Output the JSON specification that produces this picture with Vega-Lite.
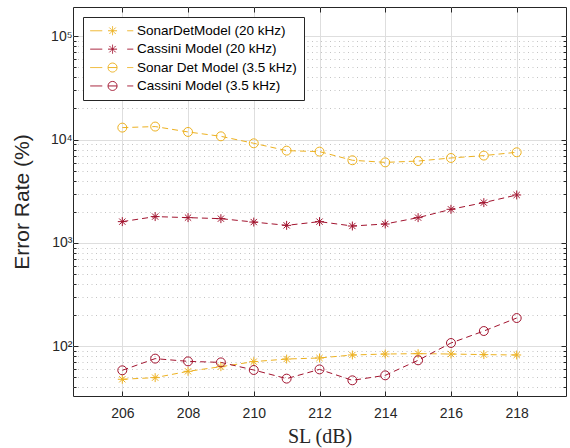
{
  "$schema": "https://vega.github.io/schema/vega-lite/v6.json",
  "width": 493,
  "height": 389,
  "autosize": {"type": "none"},
  "padding": {"left": 73, "top": 7, "right": 4, "bottom": 52},
  "background": "white",
  "config": {
    "view": {"stroke": "#262626", "strokeWidth": 1},
    "axis": {"labelFont": "Liberation Sans", "titleFont": "Liberation Sans", "labelColor": "#262626", "titleColor": "#262626", "tickColor": "#262626", "domain": false}
  },
  "data": {"values": [
    {"SL": 206, "value": 47.9, "series": "SonarDetModel (20 kHz)"},
    {"SL": 207, "value": 49.7, "series": "SonarDetModel (20 kHz)"},
    {"SL": 208, "value": 57.2, "series": "SonarDetModel (20 kHz)"},
    {"SL": 209, "value": 63.4, "series": "SonarDetModel (20 kHz)"},
    {"SL": 210, "value": 71, "series": "SonarDetModel (20 kHz)"},
    {"SL": 211, "value": 75.2, "series": "SonarDetModel (20 kHz)"},
    {"SL": 212, "value": 77, "series": "SonarDetModel (20 kHz)"},
    {"SL": 213, "value": 82.3, "series": "SonarDetModel (20 kHz)"},
    {"SL": 214, "value": 84.1, "series": "SonarDetModel (20 kHz)"},
    {"SL": 215, "value": 84.8, "series": "SonarDetModel (20 kHz)"},
    {"SL": 216, "value": 84.1, "series": "SonarDetModel (20 kHz)"},
    {"SL": 217, "value": 83, "series": "SonarDetModel (20 kHz)"},
    {"SL": 218, "value": 82.3, "series": "SonarDetModel (20 kHz)"},
    {"SL": 206, "value": 1607, "series": "Cassini Model (20 kHz)"},
    {"SL": 207, "value": 1798, "series": "Cassini Model (20 kHz)"},
    {"SL": 208, "value": 1757, "series": "Cassini Model (20 kHz)"},
    {"SL": 209, "value": 1717, "series": "Cassini Model (20 kHz)"},
    {"SL": 210, "value": 1592, "series": "Cassini Model (20 kHz)"},
    {"SL": 211, "value": 1479, "series": "Cassini Model (20 kHz)"},
    {"SL": 212, "value": 1607, "series": "Cassini Model (20 kHz)"},
    {"SL": 213, "value": 1458, "series": "Cassini Model (20 kHz)"},
    {"SL": 214, "value": 1525, "series": "Cassini Model (20 kHz)"},
    {"SL": 215, "value": 1757, "series": "Cassini Model (20 kHz)"},
    {"SL": 216, "value": 2115, "series": "Cassini Model (20 kHz)"},
    {"SL": 217, "value": 2455, "series": "Cassini Model (20 kHz)"},
    {"SL": 218, "value": 2911, "series": "Cassini Model (20 kHz)"},
    {"SL": 206, "value": 13060, "series": "Sonar Det Model (3.5 kHz)"},
    {"SL": 207, "value": 13370, "series": "Sonar Det Model (3.5 kHz)"},
    {"SL": 208, "value": 11860, "series": "Sonar Det Model (3.5 kHz)"},
    {"SL": 209, "value": 10760, "series": "Sonar Det Model (3.5 kHz)"},
    {"SL": 210, "value": 9210, "series": "Sonar Det Model (3.5 kHz)"},
    {"SL": 211, "value": 7820, "series": "Sonar Det Model (3.5 kHz)"},
    {"SL": 212, "value": 7650, "series": "Sonar Det Model (3.5 kHz)"},
    {"SL": 213, "value": 6310, "series": "Sonar Det Model (3.5 kHz)"},
    {"SL": 214, "value": 6020, "series": "Sonar Det Model (3.5 kHz)"},
    {"SL": 215, "value": 6200, "series": "Sonar Det Model (3.5 kHz)"},
    {"SL": 216, "value": 6640, "series": "Sonar Det Model (3.5 kHz)"},
    {"SL": 217, "value": 7000, "series": "Sonar Det Model (3.5 kHz)"},
    {"SL": 218, "value": 7540, "series": "Sonar Det Model (3.5 kHz)"},
    {"SL": 206, "value": 58.5, "series": "Cassini Model (3.5 kHz)"},
    {"SL": 207, "value": 75.9, "series": "Cassini Model (3.5 kHz)"},
    {"SL": 208, "value": 71.4, "series": "Cassini Model (3.5 kHz)"},
    {"SL": 209, "value": 69.8, "series": "Cassini Model (3.5 kHz)"},
    {"SL": 210, "value": 58.9, "series": "Cassini Model (3.5 kHz)"},
    {"SL": 211, "value": 48.6, "series": "Cassini Model (3.5 kHz)"},
    {"SL": 212, "value": 59.7, "series": "Cassini Model (3.5 kHz)"},
    {"SL": 213, "value": 46.8, "series": "Cassini Model (3.5 kHz)"},
    {"SL": 214, "value": 52.3, "series": "Cassini Model (3.5 kHz)"},
    {"SL": 215, "value": 73.1, "series": "Cassini Model (3.5 kHz)"},
    {"SL": 216, "value": 107.5, "series": "Cassini Model (3.5 kHz)"},
    {"SL": 217, "value": 140.4, "series": "Cassini Model (3.5 kHz)"},
    {"SL": 218, "value": 187.5, "series": "Cassini Model (3.5 kHz)"}
  ]},
  "layer": [
    {
      "mark": {"type": "point", "filled": false, "strokeWidth": 1, "opacity": 0},
      "encoding": {
        "x": {
          "field": "SL", "type": "quantitative",
          "scale": {"domain": [204.5, 219.5], "nice": false, "zero": false},
          "axis": {
            "orient": "bottom", "values": [206, 208, 210, 212, 214, 216, 218],
            "grid": true, "gridColor": "#dedede", "gridWidth": 1,
            "tickSize": -5, "labelPadding": 15, "labelFontSize": 14,
            "title": "SL (dB)", "titleFont": "Liberation Serif", "titleFontSize": 20,
            "titleFontWeight": "normal", "titlePadding": 6
          }
        },
        "y": {
          "field": "value", "type": "quantitative",
          "scale": {"type": "log", "domain": [33, 192000], "nice": false},
          "axis": {
            "orient": "left",
            "values": [40, 50, 60, 70, 80, 90, 100, 200, 300, 400, 500, 600, 700, 800, 900, 1000, 2000, 3000, 4000, 5000, 6000, 7000, 8000, 9000, 10000, 20000, 30000, 40000, 50000, 60000, 70000, 80000, 90000, 100000],
            "grid": true,
            "gridColor": {"condition": {"test": "datum.value == 100 || datum.value == 1000 || datum.value == 10000 || datum.value == 100000", "value": "#dedede"}, "value": "#c4c4c4"},
            "gridDash": {"condition": {"test": "datum.value == 100 || datum.value == 1000 || datum.value == 10000 || datum.value == 100000", "value": []}, "value": [1, 3.5]},
            "tickSize": {"condition": {"test": "datum.value == 100 || datum.value == 1000 || datum.value == 10000 || datum.value == 100000", "value": -5}, "value": -3},
            "labelExpr": "datum.value == 100 ? '10²' : datum.value == 1000 ? '10³' : datum.value == 10000 ? '10⁴' : datum.value == 100000 ? '10⁵' : ''",
            "labelFontSize": 14, "labelPadding": 6,
            "title": "Error Rate (%)", "titleFontSize": 21, "titleFontWeight": "normal", "titlePadding": 18
          }
        },
        "color": {
          "field": "series", "type": "nominal",
          "scale": {
            "domain": ["SonarDetModel (20 kHz)", "Cassini Model (20 kHz)", "Sonar Det Model (3.5 kHz)", "Cassini Model (3.5 kHz)"],
            "range": ["#EDB120", "#A2142F", "#EDB120", "#A2142F"]
          },
          "legend": {
            "title": null, "orient": "top-left", "offset": 10, "padding": 7,
            "fillColor": "white", "strokeColor": "#262626",
            "symbolSize": 100, "symbolOpacity": 1, "symbolStrokeWidth": 1, "symbolDash": [1, 0],
            "labelFont": "Liberation Sans", "labelFontSize": 13.5,
            "labelColor": "#000000", "labelOffset": 33.5, "rowPadding": 3.4, "labelLimit": 300
          }
        },
        "shape": {
          "field": "series", "type": "nominal",
          "scale": {
            "domain": ["SonarDetModel (20 kHz)", "Cassini Model (20 kHz)", "Sonar Det Model (3.5 kHz)", "Cassini Model (3.5 kHz)"],
            "range": [
              "M-1.3,0H1.1M6.1,0H7.3M2.26,0H4.06M3.16,-0.9V0.9M2.52,-0.64L3.8,0.64M2.52,0.64L3.8,-0.64",
              "M-1.3,0H1.1M6.1,0H7.3M2.26,0H4.06M3.16,-0.9V0.9M2.52,-0.64L3.8,0.64M2.52,0.64L3.8,-0.64",
              "M-1.3,0H1.1M6.1,0H7.3M2.26,0H4.06M4.06,0A0.9,0.9 0 1 1 2.26,0A0.9,0.9 0 1 1 4.06,0",
              "M-1.3,0H1.1M6.1,0H7.3M2.26,0H4.06M4.06,0A0.9,0.9 0 1 1 2.26,0A0.9,0.9 0 1 1 4.06,0"
            ]
          },
          "legend": {
            "title": null, "orient": "top-left", "offset": 10, "padding": 7,
            "fillColor": "white", "strokeColor": "#262626",
            "symbolSize": 100, "symbolOpacity": 1, "symbolStrokeWidth": 1, "symbolDash": [1, 0],
            "labelFont": "Liberation Sans", "labelFontSize": 13.5,
            "labelColor": "#000000", "labelOffset": 33.5, "rowPadding": 3.4, "labelLimit": 300
          }
        }
      }
    },
    {
      "mark": {"type": "line", "strokeWidth": 1, "strokeDash": [6, 4]},
      "encoding": {
        "x": {
          "field": "SL", "type": "quantitative",
          "axis": {
            "orient": "top", "values": [206, 208, 210, 212, 214, 216, 218],
            "grid": false, "labels": false, "tickSize": -5, "title": null
          }
        },
        "y": {
          "field": "value", "type": "quantitative",
          "axis": {
            "orient": "right",
            "values": [40, 50, 60, 70, 80, 90, 100, 200, 300, 400, 500, 600, 700, 800, 900, 1000, 2000, 3000, 4000, 5000, 6000, 7000, 8000, 9000, 10000, 20000, 30000, 40000, 50000, 60000, 70000, 80000, 90000, 100000],
            "grid": false, "labels": false, "title": null,
            "tickSize": {"condition": {"test": "datum.value == 100 || datum.value == 1000 || datum.value == 10000 || datum.value == 100000", "value": -5}, "value": -3}
          }
        },
        "color": {"field": "series", "type": "nominal"}
      }
    },
    {
      "transform": [{"filter": "indexof(datum.series, '20 kHz') >= 0"}],
      "mark": {"type": "point", "filled": false, "strokeWidth": 1, "size": 80, "opacity": 1, "shape": "M-1,0H1M0,-1V1M-0.7,-0.7L0.7,0.7M-0.7,0.7L0.7,-0.7"},
      "encoding": {
        "x": {"field": "SL", "type": "quantitative", "axis": null},
        "y": {"field": "value", "type": "quantitative", "axis": null},
        "color": {"field": "series", "type": "nominal"}
      }
    },
    {
      "transform": [{"filter": "indexof(datum.series, '3.5 kHz') >= 0"}],
      "mark": {"type": "point", "filled": false, "strokeWidth": 1, "size": 80, "opacity": 1, "shape": "circle"},
      "encoding": {
        "x": {"field": "SL", "type": "quantitative", "axis": null},
        "y": {"field": "value", "type": "quantitative", "axis": null},
        "color": {"field": "series", "type": "nominal"}
      }
    }
  ],
  "resolve": {"axis": {"x": "independent", "y": "independent"}}
}
